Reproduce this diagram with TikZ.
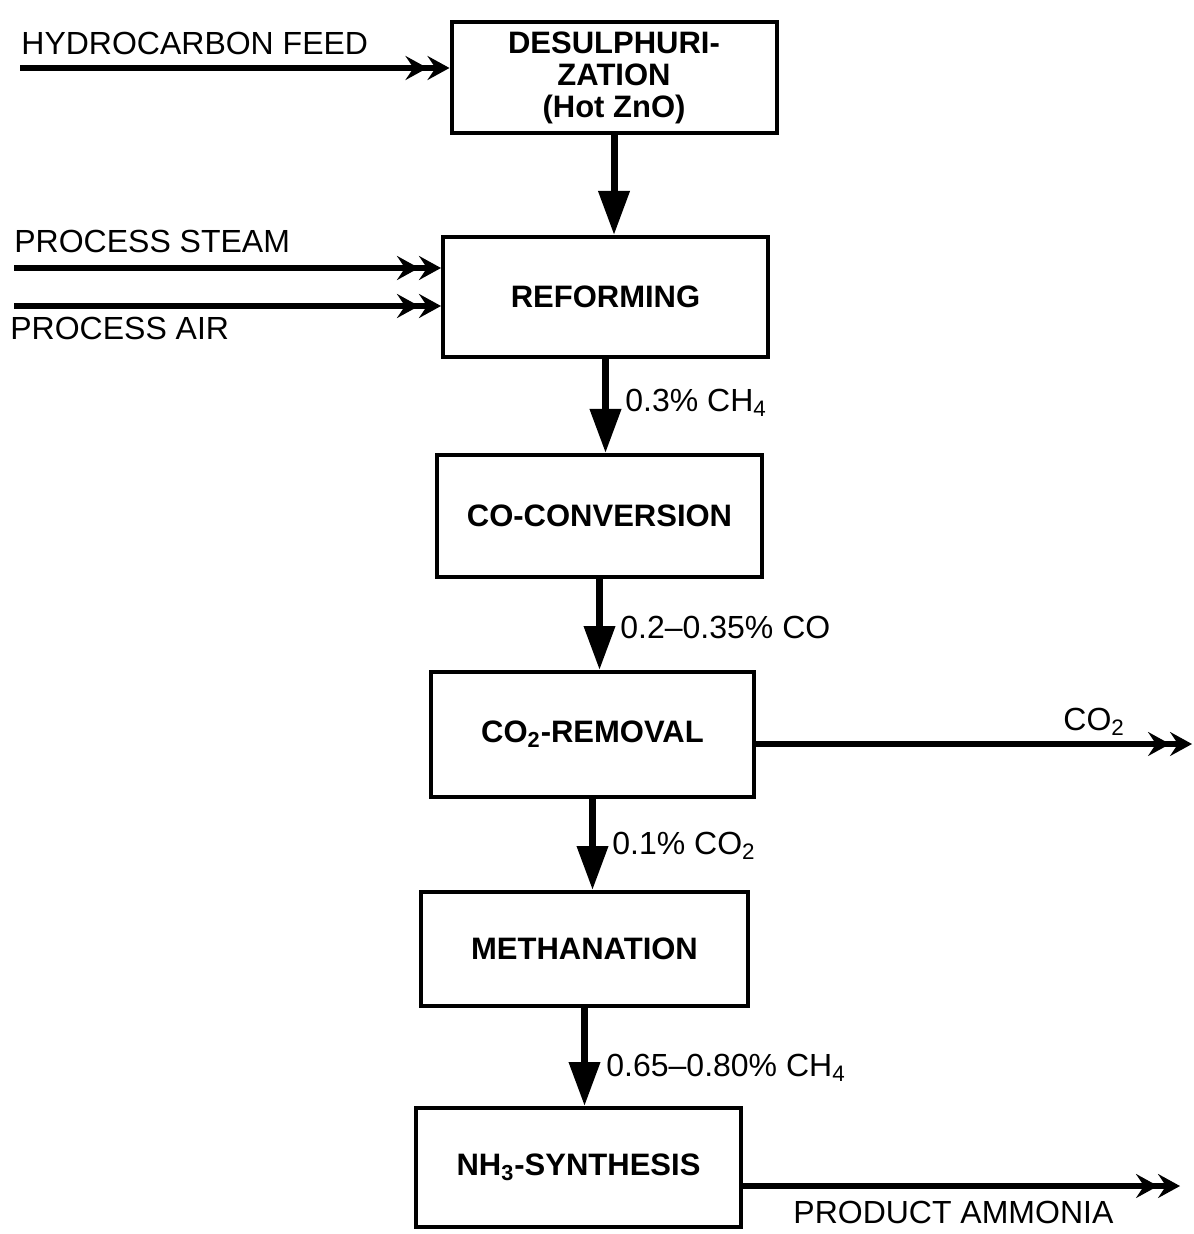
\documentclass[tikz,border=0pt]{standalone}
\usepackage{fontspec}
\setmainfont{Liberation Sans}
\usetikzlibrary{arrows.meta}
\begin{document}
\begin{tikzpicture}[x=0.5pt,y=-0.5pt,
  procbox/.style={draw,line width=2pt,minimum width=162.5pt,inner sep=0pt,align=center,font=\fontsize{15.5}{16}\selectfont\bfseries},
  flowdown/.style={line width=3.5pt,-{Triangle[length=22pt,width=15pt]}},
  flowside/.style={line width=3pt,-{Stealth[length=11pt,width=12pt,inset=4pt]Stealth[length=11pt,width=12pt,inset=4pt]}},
  lbl/.style={inner sep=0pt,anchor=west,font=\fontsize{16}{19}\selectfont}]
\useasboundingbox[fill=white] (0,0) rectangle (1193,1234);
% boxes
\node[procbox,minimum height=55.5pt] (b1) at (614,77.5) {DESULPHURI-\\ZATION\\(Hot ZnO)};
\node[procbox,minimum height=60pt] (b2) at (605.5,297) {REFORMING};
\node[procbox,minimum height=61pt] (b3) at (599.5,516) {CO-CONVERSION};
\node[procbox,minimum height=62.5pt,minimum width=161.5pt] (b4) at (592.5,734.5) {CO\textsubscript{2}-REMOVAL};
\node[procbox,minimum height=57pt,minimum width=163.5pt] (b5) at (584.5,949) {METHANATION};
\node[procbox,minimum height=59.5pt] (b6) at (578.5,1167.5) {NH\textsubscript{3}-SYNTHESIS};
% vertical flows
\draw[flowdown] (b1.south) -- (b1.south |- b2.north);
\draw[flowdown] (b2.south) -- (b2.south |- b3.north);
\draw[flowdown] (b3.south) -- (b3.south |- b4.north);
\draw[flowdown] (b4.south) -- (b4.south |- b5.north);
\draw[flowdown] (b5.south) -- (b5.south |- b6.north);
% flow labels
\node[lbl] (l1) at (625,403) {0.3\% CH\textsubscript{4}};
\node[lbl] (l2) at (620,627) {0.2–0.35\% CO};
\node[lbl] (l3) at (612,846) {0.1\% CO\textsubscript{2}};
\node[lbl] (l4) at (606,1068) {0.65–0.80\% CH\textsubscript{4}};
% inputs
\coordinate (hc) at (20,68);
\coordinate (st) at (14,268);
\coordinate (ai) at (14,306);
\draw[flowside] (hc) -- (hc -| b1.west);
\draw[flowside] (st) -- (st -| b2.west);
\draw[flowside] (ai) -- (ai -| b2.west);
\node[lbl] (thc) at (21,43) {HYDROCARBON FEED};
\node[lbl] (tst) at (14,241) {PROCESS STEAM};
\node[lbl] (tai) at (10,328) {PROCESS AIR};
% outputs
\coordinate (co2out) at (1192,744);
\coordinate (nh3out) at (1180,1186);
\draw[flowside] (b4.east |- co2out) -- (co2out);
\draw[flowside] (b6.east |- nh3out) -- (nh3out);
\node[lbl] (tco2) at (1063,722) {CO\textsubscript{2}};
\node[lbl] (tnh3) at (793,1212) {PRODUCT AMMONIA};
\end{tikzpicture}
\end{document}
